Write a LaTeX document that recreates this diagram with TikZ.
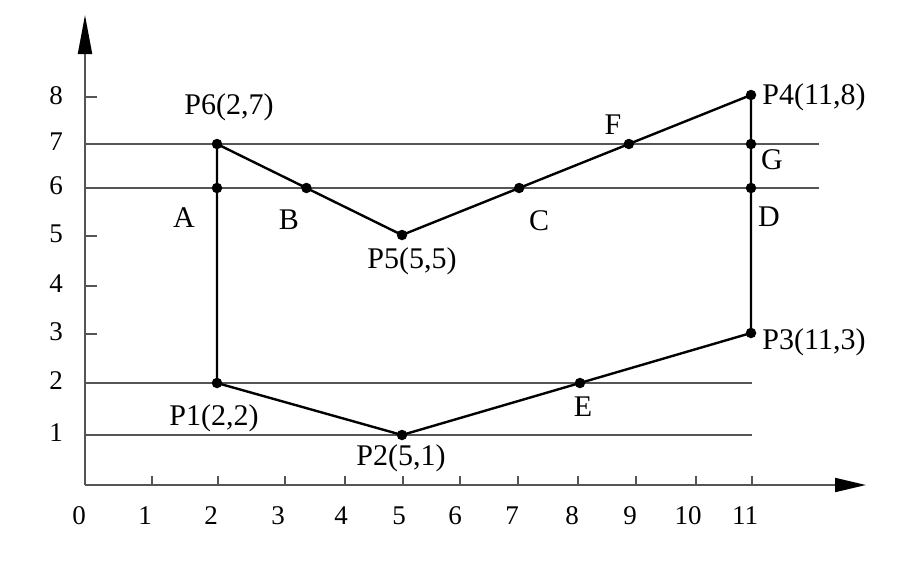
\documentclass[tikz,border=0pt]{standalone}
\usepackage{fontspec}
\setmainfont{Liberation Serif}
\usetikzlibrary{arrows.meta}
\definecolor{axisgray}{HTML}{555555}
\begin{document}
\begin{tikzpicture}[x=1pt,y=-1pt,
  axisline/.style={line width=2pt,draw=axisgray},
  gridline/.style={line width=2pt,draw=axisgray},
  tickline/.style={line width=1.6pt,draw=axisgray},
  poly/.style={line width=2.4pt,draw=black},
  dot/.style={circle,fill=black,inner sep=0pt,minimum size=10.5pt},
  lab/.style={font=\fontsize{30}{30}\selectfont,inner sep=0pt},
  num/.style={font=\fontsize{27}{27}\selectfont,inner sep=0pt},
  yarrow/.style={-{Triangle[length=39pt,width=14pt,color=black]}},
  xarrow/.style={-{Triangle[length=31pt,width=14pt,color=black]}}]
\useasboundingbox (0,0) rectangle (903,566);
% axes
\coordinate (O) at (85,485);
\coordinate (Ytop) at (85,15);
\coordinate (Xend) at (866,485);
\draw[axisline,yarrow] (O) -- (Ytop);
\draw[axisline,xarrow] (O) -- (Xend);
% x ticks and labels
\foreach \t/\xt/\xl in {1/152/145,2/218/211,3/285/278,4/345/341,5/403/399,6/460/455,7/518/512,8/578/572,9/636/630,10/696/688,11/752/745}{
  \coordinate (xt\t) at (\xt,485);
  \coordinate (xu\t) at (\xt,476);
  \draw[tickline] (xt\t) -- (xu\t);
  \node[num] (xl\t) at (\xl,516) {\t};
}
\node[num] (xl0) at (79,516) {0};
% y ticks and labels
\foreach \t/\yt in {8/97,5/236,4/286,3/334}{
  \coordinate (yt\t) at (85,\yt);
  \coordinate (yu\t) at (97,\yt);
  \draw[tickline] (yt\t) -- (yu\t);
}
\foreach \t/\yl in {8/96,7/142,6/186,5/234,4/284,3/332,2/381,1/433}{
  \node[num] (yl\t) at (56,\yl) {\t};
}
% horizontal lines
\coordinate (L7a) at (85,144); \coordinate (L7b) at (819,144);
\coordinate (L6a) at (85,188); \coordinate (L6b) at (819,188);
\coordinate (L2a) at (85,383); \coordinate (L2b) at (752,383);
\coordinate (L1a) at (85,435); \coordinate (L1b) at (752,435);
\draw[gridline] (L7a) -- (L7b);
\draw[gridline] (L6a) -- (L6b);
\draw[gridline] (L2a) -- (L2b);
\draw[gridline] (L1a) -- (L1b);
% polygon vertices
\coordinate (P1) at (217,383);
\coordinate (P2) at (402,435);
\coordinate (P3) at (751,333);
\coordinate (P4) at (751,95);
\coordinate (P5) at (402,235);
\coordinate (P6) at (217,144);
\coordinate (A) at (217,188);
\coordinate (B) at (intersection of P6--P5 and L6a--L6b);
\coordinate (C) at (intersection of P5--P4 and L6a--L6b);
\coordinate (F) at (intersection of P5--P4 and L7a--L7b);
\coordinate (G) at (751,144);
\coordinate (D) at (751,188);
\coordinate (E) at (intersection of P2--P3 and L2a--L2b);
\foreach \p in {P1,P2,P3,P4,P5,P6,A,B,C,D,E,F,G}{
  \node[dot] (n\p) at (\p) {};
}
\draw[poly,line join=round] (nP1.center) -- (nP2.center) -- (nP3.center) -- (nP4.center) -- (nP5.center) -- (nP6.center) -- cycle;
% labels
\node[lab] (tP6) at (229,107) {P6(2,7)};
\node[lab] (tA) at (184,218) {A};
\node[lab] (tB) at (289,220) {B};
\node[lab] (tC) at (539,221) {C};
\node[lab] (tP5) at (412,261) {P5(5,5)};
\node[lab] (tF) at (613,125) {F};
\node[lab] (tG) at (772,160) {G};
\node[lab] (tD) at (769,217) {D};
\node[lab] (tP4) at (814,97) {P4(11,8)};
\node[lab] (tP3) at (814,342) {P3(11,3)};
\node[lab] (tP1) at (214,418) {P1(2,2)};
\node[lab] (tP2) at (401,458) {P2(5,1)};
\node[lab] (tE) at (583,407) {E};
\end{tikzpicture}
\end{document}
